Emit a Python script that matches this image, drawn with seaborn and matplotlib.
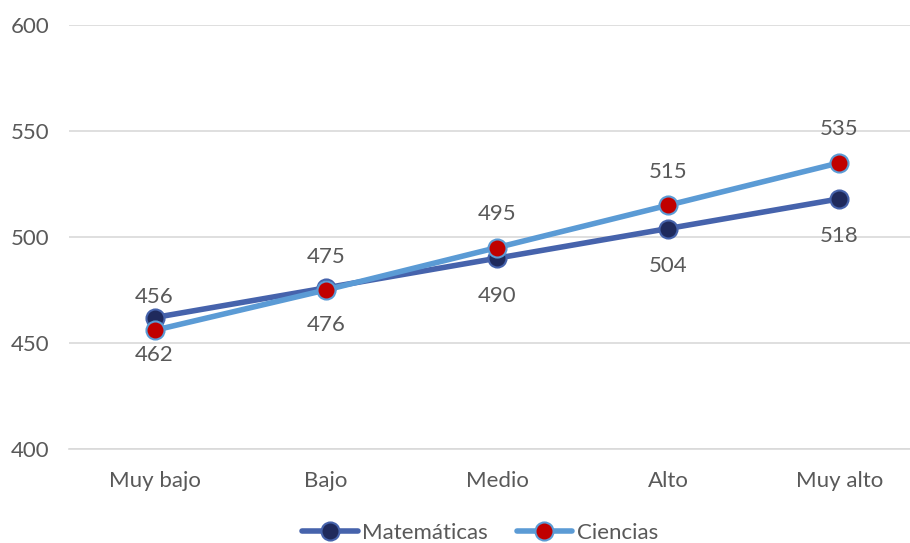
import matplotlib
matplotlib.use("Agg")
import matplotlib.pyplot as plt
import seaborn as sns
import pandas as pd

categorias = ["Muy bajo", "Bajo", "Medio", "Alto", "Muy alto"]
matematicas = [462, 476, 490, 504, 518]
ciencias = [456, 475, 495, 515, 535]
yticks = [400, 450, 500, 550, 600]

sns.set_theme(style="white")
plt.rcParams["font.family"] = ["Lato", "DejaVu Sans"]

df = pd.DataFrame({
    "categoria": categorias * 2,
    "x": list(range(len(categorias))) * 2,
    "valor": matematicas + ciencias,
    "serie": ["Matemáticas"] * len(categorias) + ["Ciencias"] * len(categorias),
})

fig = plt.figure(figsize=(9.10, 5.43), dpi=100)
ax = fig.add_axes([69 / 910, 94 / 543, 856 / 910, 424 / 543])

estilos = {
    "Matemáticas": dict(line="#4663AC", face="#1F2A5C", edge="#4663AC"),
    "Ciencias": dict(line="#5B9BD5", face="#C00000", edge="#5B9BD5"),
}

for serie, st in estilos.items():
    sub = df[df["serie"] == serie]
    sns.lineplot(data=sub, x="x", y="valor", ax=ax, color=st["line"],
                 linewidth=4, marker="o", markersize=13,
                 markerfacecolor=st["face"], markeredgecolor=st["edge"],
                 markeredgewidth=1.5, label=serie, legend=False)

txt_color = "#595959"
fs = 16
for i, v in enumerate(ciencias):
    ax.annotate(str(v), (i, v), xytext=(0, 24), textcoords="offset points",
                ha="center", va="center", fontsize=fs, color=txt_color)
for i, v in enumerate(matematicas):
    ax.annotate(str(v), (i, v), xytext=(0, -27), textcoords="offset points",
                ha="center", va="center", fontsize=fs, color=txt_color)

ax.set_xlim(-0.5, len(categorias) - 0.5)
ax.set_ylim(400, 600)
ax.set_yticks(yticks)
ax.set_yticklabels([str(t) for t in yticks], fontsize=fs, color=txt_color)
ax.set_xticks(range(len(categorias)))
ax.set_xticklabels(categorias, fontsize=fs, color=txt_color)
ax.tick_params(axis="y", length=0, pad=42)
ax.tick_params(axis="x", length=0, pad=16)
for lab in ax.get_yticklabels():
    lab.set_horizontalalignment("left")
ax.yaxis.grid(True, color="#D9D9D9", linewidth=1.2)
ax.xaxis.grid(False)
for s in ["top", "right", "left"]:
    ax.spines[s].set_visible(False)
ax.spines["bottom"].set_color("#D9D9D9")
ax.spines["bottom"].set_linewidth(1.2)
ax.set_xlabel("")
ax.set_ylabel("")

handles, labels = ax.get_legend_handles_labels()
fig.legend(handles, labels, loc="center", bbox_to_anchor=(480 / 910, 10 / 543),
           ncol=2, frameon=False, fontsize=fs, labelcolor=txt_color,
           handlelength=2.5, handletextpad=0.2, columnspacing=1.3,
           borderpad=0)

fig.savefig("out.png", dpi=100)
